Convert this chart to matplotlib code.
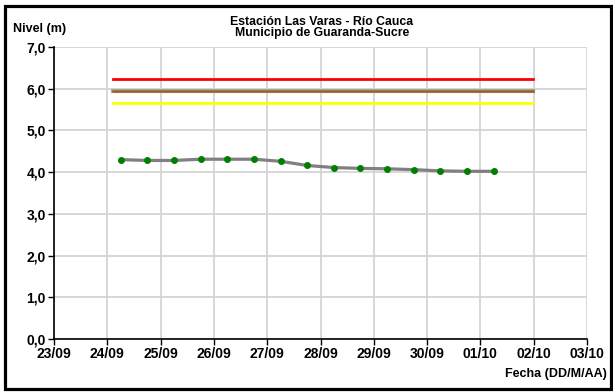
import matplotlib
matplotlib.use("Agg")
import matplotlib.pyplot as plt
from datetime import datetime, timedelta

plt.rcParams['font.family'] = ['Liberation Sans', 'DejaVu Sans']

# Data
start = datetime(2024, 9, 24, 6, 0)
times = [start + timedelta(hours=12 * i) for i in range(15)]
levels = [4.30, 4.28, 4.28, 4.31, 4.31, 4.31, 4.26, 4.16, 4.11, 4.09, 4.08, 4.06, 4.03, 4.02, 4.02]

thr_times = [datetime(2024, 9, 24, 2, 30), datetime(2024, 10, 1, 23, 30)]
thr_red = 6.24
thr_brown = 5.95
thr_yellow = 5.66

xtick_dates = [datetime(2024, 9, 23) + timedelta(days=i) for i in range(11)]
xtick_labels = [d.strftime('%d/%m') for d in xtick_dates]
yticks = [0, 1, 2, 3, 4, 5, 6, 7]
ytick_labels = ['0,0', '1,0', '2,0', '3,0', '4,0', '5,0', '6,0', '7,0']

fig = plt.figure(figsize=(6.13, 3.92), dpi=100)
ax = fig.add_axes([54/613, 1-339/392, (587-54)/613, (339-47)/392])

ax.plot(thr_times, [thr_red]*2, color='#FF0000', lw=2, zorder=3)
ax.plot(thr_times, [thr_brown]*2, color='#A8A8A8', lw=3, zorder=3)
ax.plot(thr_times, [thr_brown]*2, color='#9C6424', lw=1.8, zorder=3)
ax.plot(thr_times, [thr_yellow]*2, color='#FFFF00', lw=2, zorder=3)

ax.plot(times, levels, color='#808080', lw=2.3, zorder=4)
ax.plot(times, levels, 'o', color='#008000', ms=4, zorder=5)

ax.set_xlim(xtick_dates[0], xtick_dates[-1])
ax.set_ylim(0, 7)
ax.set_xticks(xtick_dates)
ax.set_xticklabels(xtick_labels, fontsize=10, fontweight='bold')
ax.set_yticks(yticks)
ax.set_yticklabels(ytick_labels, fontsize=10, fontweight='bold')

ax.grid(True, color='#D4D4D4', lw=1.3)
ax.set_axisbelow(True)
for s in ['top', 'right']:
    ax.spines[s].set_visible(False)
for s in ['left', 'bottom']:
    ax.spines[s].set_linewidth(1.2)
    ax.spines[s].set_color('black')
ax.tick_params(axis='both', direction='out', length=4, width=1, pad=2)

fig.text(0.525, 1-22/392, 'Estación Las Varas - Río Cauca', ha='center', va='center',
         fontsize=8.8, fontweight='bold')
fig.text(0.525, 1-33/392, 'Municipio de Guaranda-Sucre', ha='center', va='center',
         fontsize=8.8, fontweight='bold')
fig.text(13/613, 1-29/392, 'Nivel (m)', ha='left', va='center', fontsize=9, fontweight='bold')
fig.text(607/613, 1-374/392, 'Fecha (DD/M/AA)', ha='right', va='center', fontsize=9, fontweight='bold')

# figure border
x0, x1 = 5.5/613, 610.5/613
y0, y1 = 3.5/392, 1-5.5/392
rect = plt.Rectangle((x0, y0), x1-x0, y1-y0, transform=fig.transFigure,
                     fill=False, edgecolor='black', lw=2.3)
fig.patches.append(rect)

fig.savefig('out.png', dpi=100)
